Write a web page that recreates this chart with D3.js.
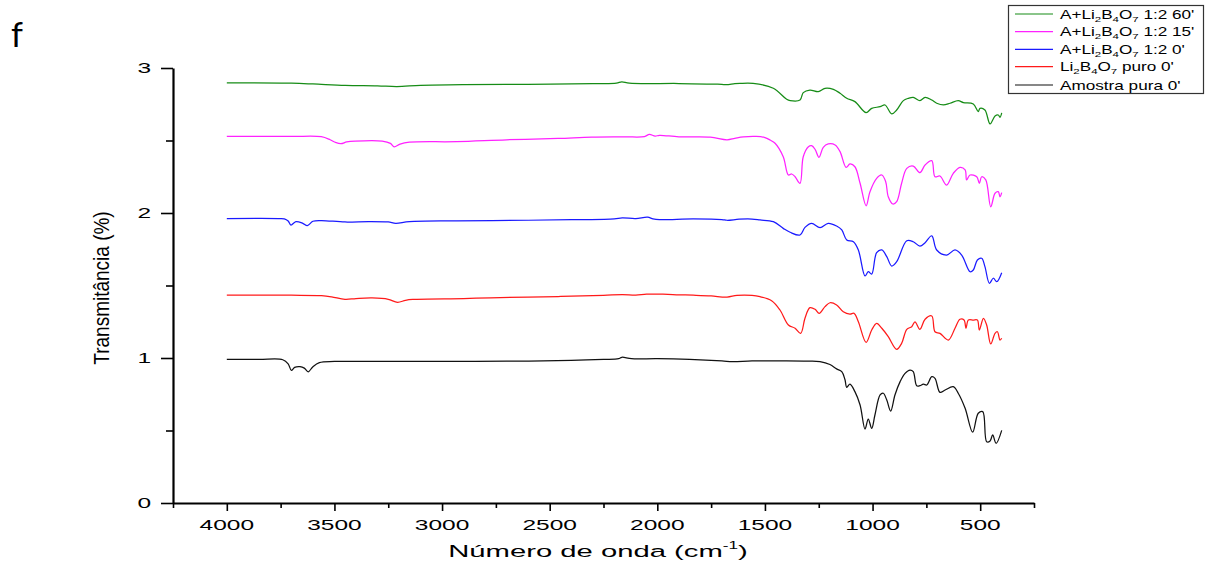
<!DOCTYPE html>
<html><head><meta charset="utf-8">
<script src="https://cdn.jsdelivr.net/npm/d3@7"></script>
<style>
body{margin:0;background:#fff;}
svg{display:block;}
text{font-family:"Liberation Sans",Arial,sans-serif;fill:#000;}
</style>
</head><body>
<svg id="c" width="1213" height="568"></svg>
<script>
// ---------- DATA ----------
const xTicks = [4000, 3500, 3000, 2500, 2000, 1500, 1000, 500];
const xMinor = [4250, 3750, 3250, 2750, 2250, 1750, 1250, 750, 250];
const yTicks = [0, 1, 2, 3];
const yMinor = [0.5, 1.5, 2.5];

const amostraPura = [[4000,0.99],[3850,0.99],[3740,0.988],[3715,0.96],[3700,0.915],[3685,0.935],[3660,0.94],[3640,0.93],[3622,0.905],[3600,0.94],[3570,0.968],[3500,0.976],[3300,0.976],[3000,0.977],[2700,0.978],[2400,0.983],[2250,0.99],[2180,0.995],[2165,1.005],[2120,0.995],[2000,0.995],[1850,0.99],[1700,0.98],[1650,0.975],[1560,0.98],[1400,0.98],[1300,0.978],[1244,0.975],[1198,0.955],[1167,0.925],[1143,0.906],[1128,0.85],[1120,0.798],[1105,0.819],[1082,0.768],[1058,0.676],[1035,0.51],[1020,0.579],[1004,0.515],[989,0.607],[965,0.745],[950,0.757],[934,0.71],[916,0.634],[896,0.745],[872,0.837],[849,0.894],[826,0.917],[811,0.906],[795,0.809],[780,0.809],[764,0.819],[748,0.814],[725,0.871],[710,0.86],[687,0.763],[663,0.779],[625,0.802],[602,0.757],[570,0.653],[535,0.488],[509,0.619],[488,0.63],[470,0.423],[454,0.428],[442,0.469],[426,0.412],[400,0.501]];

const liPuro = [[4000,1.433],[3700,1.433],[3560,1.43],[3513,1.422],[3451,1.405],[3400,1.41],[3325,1.414],[3250,1.405],[3207,1.384],[3170,1.398],[3136,1.404],[2900,1.41],[2775,1.415],[2461,1.424],[2250,1.432],[2163,1.437],[2100,1.434],[2050,1.44],[1974,1.44],[1900,1.436],[1833,1.433],[1750,1.428],[1676,1.42],[1630,1.432],[1560,1.432],[1523,1.423],[1469,1.395],[1430,1.331],[1391,1.228],[1360,1.205],[1334,1.17],[1314,1.274],[1291,1.347],[1267,1.336],[1248,1.308],[1221,1.354],[1198,1.381],[1167,1.366],[1136,1.319],[1105,1.303],[1086,1.308],[1066,1.25],[1030,1.108],[1004,1.193],[981,1.239],[957,1.205],[927,1.147],[888,1.06],[865,1.101],[841,1.198],[818,1.216],[803,1.25],[780,1.198],[756,1.267],[725,1.29],[710,1.181],[687,1.17],[648,1.124],[617,1.205],[594,1.267],[575,1.262],[566,1.205],[555,1.262],[532,1.262],[513,1.262],[504,1.193],[485,1.274],[470,1.228],[451,1.097],[431,1.17],[420,1.181],[408,1.124],[400,1.136]];

const mix0 = [[4000,1.962],[3760,1.962],[3733,1.96],[3715,1.945],[3702,1.917],[3679,1.941],[3647,1.929],[3626,1.913],[3600,1.943],[3561,1.948],[3451,1.938],[3341,1.941],[3250,1.938],[3215,1.929],[3152,1.941],[2932,1.946],[2600,1.95],[2382,1.954],[2200,1.96],[2163,1.966],[2100,1.962],[2045,1.971],[2020,1.96],[1990,1.955],[1833,1.959],[1700,1.955],[1676,1.95],[1620,1.957],[1560,1.958],[1523,1.952],[1461,1.94],[1415,1.894],[1383,1.867],[1337,1.848],[1314,1.901],[1283,1.929],[1244,1.899],[1206,1.929],[1167,1.91],[1143,1.883],[1120,1.814],[1089,1.802],[1066,1.745],[1035,1.566],[1020,1.595],[1004,1.579],[981,1.726],[957,1.745],[934,1.699],[911,1.634],[888,1.664],[841,1.809],[811,1.802],[780,1.772],[756,1.795],[725,1.843],[702,1.745],[656,1.71],[617,1.745],[586,1.71],[547,1.595],[532,1.607],[513,1.676],[493,1.688],[478,1.63],[457,1.515],[439,1.55],[423,1.526],[400,1.588]];

const mix15 = [[4000,2.528],[3700,2.528],[3561,2.526],[3520,2.505],[3497,2.488],[3470,2.478],[3443,2.49],[3404,2.496],[3278,2.496],[3240,2.48],[3223,2.456],[3195,2.475],[3152,2.488],[2932,2.492],[2700,2.505],[2461,2.514],[2304,2.523],[2150,2.525],[2060,2.527],[2037,2.542],[2010,2.53],[1990,2.536],[1900,2.525],[1754,2.523],[1676,2.505],[1640,2.515],[1600,2.525],[1540,2.528],[1500,2.52],[1476,2.503],[1453,2.481],[1415,2.388],[1391,2.262],[1376,2.269],[1360,2.25],[1337,2.205],[1322,2.388],[1298,2.457],[1283,2.464],[1267,2.439],[1249,2.384],[1229,2.453],[1206,2.476],[1174,2.469],[1151,2.423],[1123,2.315],[1105,2.338],[1082,2.319],[1058,2.205],[1030,2.05],[1012,2.147],[981,2.239],[957,2.262],[939,2.216],[927,2.112],[906,2.062],[888,2.078],[865,2.205],[841,2.308],[811,2.324],[780,2.278],[756,2.331],[725,2.361],[710,2.25],[687,2.255],[656,2.193],[625,2.274],[594,2.315],[570,2.297],[563,2.228],[547,2.262],[516,2.25],[504,2.205],[493,2.25],[474,2.228],[451,2.043],[431,2.136],[416,2.147],[408,2.112],[400,2.14]];

const mix60 = [[4000,2.897],[3700,2.895],[3600,2.89],[3450,2.88],[3300,2.877],[3210,2.872],[3100,2.88],[2900,2.885],[2600,2.887],[2300,2.892],[2190,2.895],[2165,2.905],[2130,2.895],[1900,2.893],[1720,2.888],[1680,2.885],[1640,2.892],[1616,2.894],[1555,2.894],[1461,2.86],[1399,2.784],[1383,2.775],[1337,2.779],[1322,2.83],[1291,2.848],[1252,2.837],[1221,2.86],[1182,2.853],[1151,2.826],[1120,2.791],[1082,2.768],[1030,2.692],[1004,2.722],[965,2.733],[942,2.745],[911,2.683],[888,2.71],[857,2.775],[834,2.791],[811,2.798],[780,2.775],[756,2.798],[725,2.779],[702,2.757],[671,2.745],[640,2.757],[602,2.775],[578,2.761],[532,2.752],[509,2.699],[501,2.722],[478,2.71],[454,2.614],[431,2.669],[416,2.676],[408,2.66],[400,2.69]];

const seriesData = [mix60, mix15, mix0, liPuro, amostraPura];
const seriesColors = ["#168c16", "#ff22ff", "#1a1aff", "#ff1a1a", "#111111"];
// legend labels: parts of [text, isSubscript]
const legendLabels = [
  [["A+Li",0],["2",1],["B",0],["4",1],["O",0],["7",1],[" 1:2 60'",0]],
  [["A+Li",0],["2",1],["B",0],["4",1],["O",0],["7",1],[" 1:2 15'",0]],
  [["A+Li",0],["2",1],["B",0],["4",1],["O",0],["7",1],[" 1:2 0'",0]],
  [["Li",0],["2",1],["B",0],["4",1],["O",0],["7",1],[" puro 0'",0]],
  [["Amostra pura 0'",0]]
];
const xTitle = "Número de onda (cm";
const xTitleSup = "-1";
const yTitle = "Transmitância (%)";
const panelLabel = "f";

// ---------- CHART ----------
const svg = d3.select("#c");
const x = d3.scaleLinear().domain([4250, 250]).range([173, 1034]);
const y = d3.scaleLinear().domain([0, 3]).range([503, 68]);

const line = d3.line().x(d => x(d[0])).y(d => y(d[1])).curve(d3.curveCatmullRom.alpha(0.5));

seriesData.slice().reverse().forEach((s, i) => {
  const idx = seriesData.length - 1 - i;
  svg.append("path").datum(s)
    .attr("d", line)
    .attr("fill", "none")
    .attr("stroke", seriesColors[idx])
    .attr("stroke-width", 1.25)
    .attr("stroke-linejoin", "round");
});

// x axis
const gx = svg.append("g").attr("transform", "translate(0,503)")
  .call(d3.axisBottom(x).tickValues(xTicks).tickSize(8).tickSizeOuter(0).tickFormat(""));
gx.select(".domain").attr("stroke-width", 2.2);
gx.selectAll(".tick line").attr("stroke-width", 1.6);
const gxm = svg.append("g").attr("transform", "translate(0,503)")
  .call(d3.axisBottom(x).tickValues(xMinor).tickSize(5).tickSizeOuter(0).tickFormat(""));
gxm.select(".domain").remove();
gxm.selectAll(".tick line").attr("stroke-width", 1.6);

svg.append("g").selectAll("text").data(xTicks).join("text")
  .attr("transform", d => `translate(${x(d)},530) scale(1.75,1)`)
  .attr("text-anchor", "middle")
  .attr("font-size", 14)
  .text(d => d);

// y axis
const gy = svg.append("g").attr("transform", "translate(173,0)")
  .call(d3.axisLeft(y).tickValues(yTicks).tickSize(12).tickSizeOuter(0).tickFormat(""));
gy.select(".domain").attr("stroke-width", 2.2);
gy.selectAll(".tick line").attr("stroke-width", 1.6);
const gym = svg.append("g").attr("transform", "translate(173,0)")
  .call(d3.axisLeft(y).tickValues(yMinor).tickSize(7).tickSizeOuter(0).tickFormat(""));
gym.select(".domain").remove();
gym.selectAll(".tick line").attr("stroke-width", 1.6);

svg.append("g").selectAll("text").data(yTicks).join("text")
  .attr("transform", d => `translate(151,${y(d) + 5}) scale(1.75,1)`)
  .attr("text-anchor", "end")
  .attr("font-size", 14)
  .text(d => d);

// axis titles
const xt = svg.append("text")
  .attr("transform", "translate(598,557) scale(1.72,1)")
  .attr("text-anchor", "middle")
  .attr("font-size", 17);
xt.append("tspan").text(xTitle);
xt.append("tspan").attr("font-size", 10).attr("dy", -8).text(xTitleSup);
xt.append("tspan").attr("dy", 8).text(")");

svg.append("text")
  .attr("transform", "translate(109,288) rotate(-90) scale(1,1.12)")
  .attr("text-anchor", "middle")
  .attr("font-size", 19)
  .text(yTitle);

// panel label
svg.append("text")
  .attr("x", 11).attr("y", 47)
  .style("font-family", "Lato, 'Open Sans', sans-serif")
  .attr("font-size", 34)
  .text(panelLabel);

// legend
const lg = svg.append("g");
lg.append("rect").attr("x", 1008.5).attr("y", 5.5).attr("width", 195).attr("height", 88)
  .attr("fill", "#fff").attr("stroke", "#333").attr("stroke-width", 1.2);
const rowY = [14, 31.7, 49.3, 66.7, 85];
legendLabels.forEach((parts, i) => {
  lg.append("line").attr("x1", 1015).attr("x2", 1053).attr("y1", rowY[i]).attr("y2", rowY[i])
    .attr("stroke", seriesColors[i]).attr("stroke-width", 1.2);
  const t = lg.append("text")
    .attr("transform", `translate(1060,${rowY[i] + 4.5}) scale(1.43,1)`)
    .attr("font-size", 12);
  let sub = false;
  parts.forEach(p => {
    const ts = t.append("tspan").text(p[0]);
    if (p[1] && !sub) { ts.attr("dy", 3).attr("font-size", 8); sub = true; }
    else if (p[1] && sub) { ts.attr("font-size", 8); }
    else if (!p[1] && sub) { ts.attr("dy", -3); sub = false; }
  });
});
</script>
</body></html>
